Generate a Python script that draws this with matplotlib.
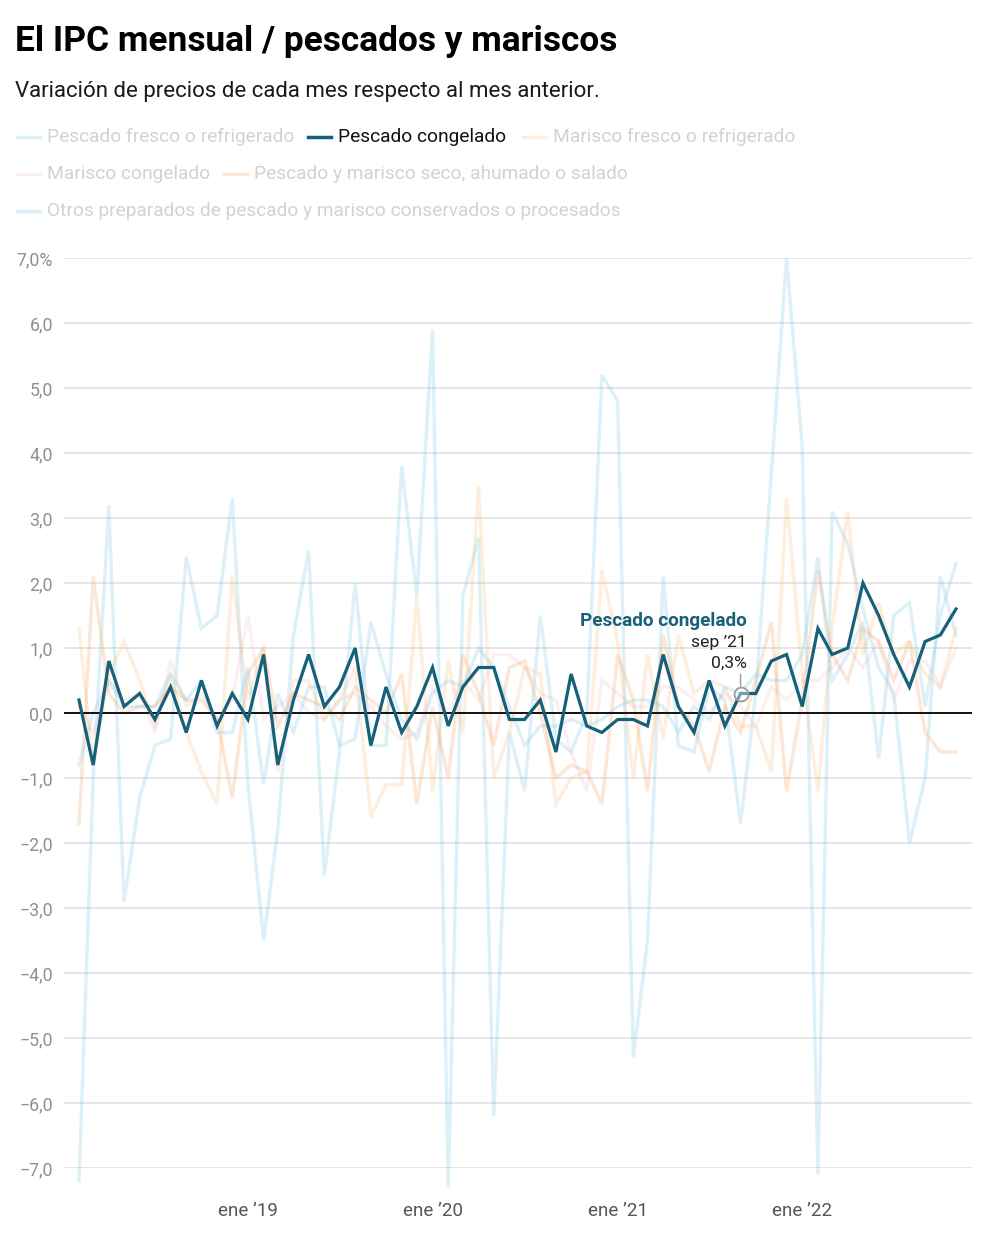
import matplotlib
matplotlib.use("Agg")
import matplotlib.pyplot as plt
import matplotlib.dates as mdates
import numpy as np
import pandas as pd
from matplotlib.lines import Line2D
from matplotlib.ticker import FixedLocator, FuncFormatter

plt.rcParams['font.family'] = ['Roboto', 'DejaVu Sans']

# ---------------- data ----------------
months = pd.date_range("2018-02-01", periods=58, freq="MS")

pescado_fresco = [-7.2, -1.0, 3.2, -2.9, -1.3, -0.5, -0.4, 2.4, 1.3, 1.5, 3.3, -1.1,
                  -3.5, -1.8, 1.2, 2.5, -2.5, -0.6, 2.0, -0.5, -0.5, 3.8, 1.8, 5.9,
                  -7.3, 1.8, 2.7, -6.2, -0.3, -1.2, 1.5, -0.4, -0.6, 0.0, 5.2, 4.8,
                  -5.3, -3.5, 2.1, -0.5, -0.6, 0.4, 0.2, -1.7, 0.3, 3.7, 7.0, 4.1,
                  -7.1, 3.1, 2.6, 1.6, 0.7, 0.3, -2.0, -1.0, 2.1, 1.2]

pescado_congelado = [0.2, -0.8, 0.8, 0.1, 0.3, -0.1, 0.4, -0.3, 0.5, -0.2, 0.3, -0.1,
                     0.9, -0.8, 0.2, 0.9, 0.1, 0.4, 1.0, -0.5, 0.4, -0.3, 0.1, 0.7,
                     -0.2, 0.4, 0.7, 0.7, -0.1, -0.1, 0.2, -0.6, 0.6, -0.2, -0.3, -0.1,
                     -0.1, -0.2, 0.9, 0.1, -0.3, 0.5, -0.2, 0.3, 0.3, 0.8, 0.9, 0.1,
                     1.3, 0.9, 1.0, 2.0, 1.5, 0.9, 0.4, 1.1, 1.2, 1.6]

marisco_fresco = [1.3, -0.8, 0.6, 1.1, 0.5, -0.2, 0.6, -0.3, -0.9, -1.4, 2.1, 0.2,
                  1.0, -0.9, 0.5, 0.5, -0.1, 0.2, 0.7, -1.6, -1.1, -1.1, 1.8, -1.2,
                  0.8, -0.3, 3.5, -1.0, -0.3, 0.7, 0.6, -1.4, -1.0, -0.9, 2.2, 1.1,
                  -1.0, 0.9, -0.4, 1.2, 0.3, 0.5, 0.4, -0.2, -0.2, -0.9, 3.3, 0.6,
                  -1.2, 1.3, 3.1, 0.9, 1.7, 0.9, 1.1, 0.6, 0.4, 1.3]

marisco_congelado = [0.1, -0.3, 0.5, 0.2, 0.3, -0.3, 0.8, 0.1, 0.3, -0.1, 0.2, 1.5,
                     -0.1, 0.1, 0.3, 0.0, -0.1, 0.2, 0.3, 0.1, -0.2, -0.4, -0.3, 0.4,
                     0.0, 0.5, 0.2, 0.9, 0.9, 0.7, 0.3, 0.2, -0.6, -1.2, 0.5, 0.3,
                     0.1, 0.1, 0.4, 0.4, 0.2, 0.0, 0.3, 0.1, -0.2, 0.4, 0.2, 0.5,
                     0.5, 0.7, 1.0, 0.7, 1.1, 0.2, 0.8, 0.8, 0.4, 1.0]

seco_ahumado_salado = [-1.7, 2.1, 0.3, 0.0, 0.1, 0.1, 0.4, 0.2, 0.2, -0.1, -1.3, 0.6,
                       1.0, -0.2, 0.3, 0.2, 0.1, -0.1, 0.4, 0.2, 0.0, 0.6, -1.4, 0.1,
                       -1.0, 0.9, 0.3, -0.5, 0.7, 0.8, 0.0, -1.0, -0.8, -0.9, -1.4, 0.9,
                       0.2, -1.2, 1.2, 0.1, -0.2, -0.9, 0.1, -0.3, 0.5, 1.4, -1.2, 0.2,
                       2.2, 0.9, 0.5, 1.3, 1.1, 0.5, 1.1, -0.3, -0.6, -0.6]

otros_preparados = [-0.8, 0.0, 0.5, 0.1, 0.1, 0.1, 0.6, 0.2, 0.5, -0.3, -0.3, 0.7,
                    -1.1, 0.3, -0.3, 0.4, 0.4, -0.5, -0.4, 1.4, 0.6, -0.1, -0.4, 0.3,
                    0.5, 0.4, 1.0, 0.7, 0.1, -0.5, -0.2, -0.2, -0.1, -0.2, -0.1, 0.1,
                    0.2, 0.2, 0.1, -0.3, 0.1, -0.1, 0.4, 0.3, 0.6, 0.5, 0.5, 0.9,
                    2.4, 0.5, 0.9, 1.4, -0.7, 1.5, 1.7, 0.1, 1.5, 2.3]

series_names = ["Pescado fresco o refrigerado", "Pescado congelado",
                "Marisco fresco o refrigerado", "Marisco congelado",
                "Pescado y marisco seco, ahumado o salado",
                "Otros preparados de pescado y marisco conservados o procesados"]

y_ticks = [-7, -6, -5, -4, -3, -2, -1, 0, 1, 2, 3, 4, 5, 6, 7]
x_tick_dates = pd.to_datetime(["2019-01-01", "2020-01-01", "2021-01-01", "2022-01-01"])
x_tick_labels = ["ene \u201919", "ene \u201920", "ene \u201921", "ene \u201922"]

# ---------------- styles ----------------
HIGHLIGHT = "#17607a"
faint = {
    "Pescado fresco o refrigerado": ("#7cc6e2", 0.25),
    "Marisco fresco o refrigerado": ("#f9c28a", 0.28),
    "Marisco congelado": ("#f0a9b4", 0.18),
    "Pescado y marisco seco, ahumado o salado": ("#f6a868", 0.28),
    "Otros preparados de pescado y marisco conservados o procesados": ("#7cc6e2", 0.25),
}
data = {
    "Pescado fresco o refrigerado": pescado_fresco,
    "Pescado congelado": pescado_congelado,
    "Marisco fresco o refrigerado": marisco_fresco,
    "Marisco congelado": marisco_congelado,
    "Pescado y marisco seco, ahumado o salado": seco_ahumado_salado,
    "Otros preparados de pescado y marisco conservados o procesados": otros_preparados,
}

W, H = 986, 1246
fig = plt.figure(figsize=(W / 100, H / 100), dpi=100)
fig.patch.set_facecolor("white")

ax_l, ax_r, ax_t, ax_b = 64, 972, 258, 1168
ax = fig.add_axes([ax_l / W, 1 - ax_b / H, (ax_r - ax_l) / W, (ax_b - ax_t) / H])

# grid
for v in y_ticks:
    ax.axhline(v, color="#e2e2e2", lw=1.2, zorder=0)

for name in series_names:
    if name == "Pescado congelado":
        continue
    col, a = faint[name]
    ax.plot(months, data[name], color=col, alpha=a, lw=2.4, zorder=2,
            clip_on=False, solid_joinstyle="miter")

ax.axhline(0, color="#111111", lw=1.4, zorder=3)
ax.plot(months, pescado_congelado, color=HIGHLIGHT, lw=2.3, zorder=4,
        solid_joinstyle="miter")

# x limits
px_per_day = (956 - 79) / (months[-1] - months[0]).days
d0 = mdates.date2num(months[0]) - (79 - ax_l) / px_per_day
d1 = mdates.date2num(months[-1]) + (ax_r - 956) / px_per_day
ax.set_xlim(d0, d1)
ax.set_ylim(-7, 7)

for s in ax.spines.values():
    s.set_visible(False)

ax.yaxis.set_major_locator(FixedLocator(y_ticks))
def yfmt(v, pos):
    s = f"{abs(v):.1f}".replace(".", ",")
    if v < 0:
        s = "\u2212" + s
    if v == 7:
        s += "%"
    return s
ax.yaxis.set_major_formatter(FuncFormatter(yfmt))
ax.tick_params(axis="y", length=0, pad=8, labelsize=12.8, labelcolor="#8f8f8f")

ax.set_xticks(mdates.date2num(x_tick_dates))
ax.set_xticklabels(x_tick_labels)
ax.tick_params(axis="x", length=0, pad=24.5, labelsize=13.5, labelcolor="#555555")

# annotation for sep '21
sep = months[43]
ax.plot([sep], [pescado_congelado[43]], marker="o", ms=10, mfc=(1, 1, 1, 0.4),
        mec="#9a9a9a", mew=1.3, zorder=5, linestyle="none")
ax.annotate("", xy=(sep, pescado_congelado[43]), xytext=(0, 19),
            textcoords="offset pixels",
            arrowprops=dict(arrowstyle="-", color="#9a9a9a", lw=1.0,
                            shrinkA=0, shrinkB=5.5), zorder=5)
ax.annotate("0,3%", xy=(sep, pescado_congelado[43]), xytext=(6, 30),
            textcoords="offset pixels", ha="right", va="center",
            fontsize=12.6, color="#222222", zorder=6)
ax.annotate("sep \u201921", xy=(sep, pescado_congelado[43]), xytext=(6, 51),
            textcoords="offset pixels", ha="right", va="center",
            fontsize=12.6, color="#222222", zorder=6)
ax.annotate("Pescado congelado", xy=(sep, pescado_congelado[43]), xytext=(6, 73),
            textcoords="offset pixels", ha="right", va="center",
            fontsize=13.6, fontweight="bold", color=HIGHLIGHT, zorder=6)

# title and subtitle
fig.text(15 / W, 1 - 51 / H, "El IPC mensual / pescados y mariscos",
         fontsize=25.4, fontweight="bold", color="#000000", va="baseline")
fig.text(15 / W, 1 - 97 / H, "Variaci\u00f3n de precios de cada mes respecto al mes anterior.",
         fontsize=16.0, color="#1a1a1a", va="baseline")

# legend (manual)
legend_items = [
    (series_names[0], 17, 137), (series_names[1], 308, 137), (series_names[2], 523, 137),
    (series_names[3], 17, 174), (series_names[4], 224, 174),
    (series_names[5], 17, 211),
]
for name, x0, yc in legend_items:
    yf = 1 - yc / H
    if name == "Pescado congelado":
        col, a, tcol = HIGHLIGHT, 1.0, "#111111"
    else:
        col, a = faint[name]
        tcol = "#d2d2d2"
    fig.add_artist(Line2D([x0 / W, (x0 + 23) / W], [yf, yf], color=col, alpha=a,
                          lw=2.5, transform=fig.transFigure))
    fig.text((x0 + 30) / W, yf, name, fontsize=13.8, color=tcol, va="center", ha="left")

fig.savefig("out.png", dpi=100, facecolor="white")
